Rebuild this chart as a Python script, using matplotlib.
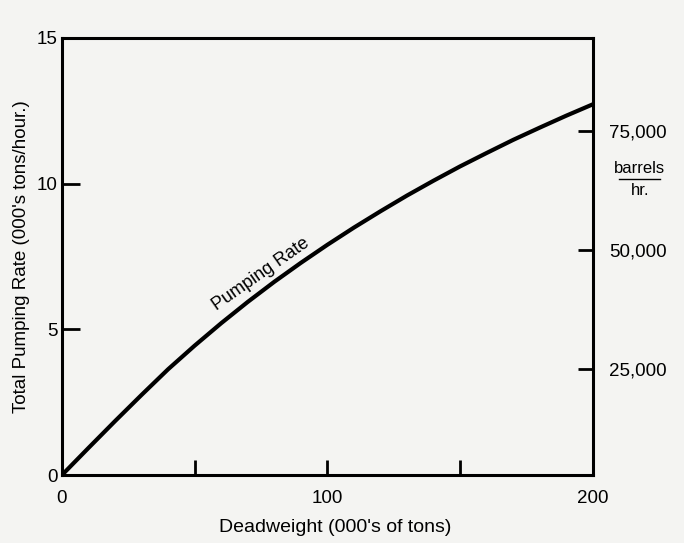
import matplotlib
matplotlib.use("Agg")
import matplotlib.pyplot as plt

# values
deadweight = [0, 10, 20, 30, 40, 50, 60, 70, 80, 90, 100,
              110, 120, 130, 140, 150, 160, 170, 180, 190, 200]
pumping_rate = [0, 0.93, 1.85, 2.75, 3.63, 4.44, 5.21, 5.94, 6.63, 7.28, 7.90,
                8.49, 9.05, 9.59, 10.10, 10.59, 11.05, 11.50, 11.92, 12.33, 12.72]

left_ticks = [0, 5, 10, 15]
bottom_ticks = [0, 50, 100, 150, 200]
bottom_labels = ['0', '', '100', '', '200']
barrel_ticks = [25000, 50000, 75000]
barrel_labels = ['25,000', '50,000', '75,000']

plt.rcParams['font.family'] = ['Liberation Sans', 'DejaVu Sans']
paper = '#f4f4f2'

fig = plt.figure(figsize=(6.84, 5.43), dpi=100, facecolor=paper)
ax = fig.add_axes([0.0906, 0.1252, 0.776, 0.805])
ax.set_facecolor(paper)

ax.plot(deadweight, pumping_rate, color='black', lw=3.0, solid_capstyle='round')
ax.set_xlim(0, 200)
ax.set_ylim(0, 15)

for s in ax.spines.values():
    s.set_linewidth(2.2)

ax.set_xticks(bottom_ticks)
ax.set_xticklabels(bottom_labels, fontsize=13.5)
ax.set_yticks(left_ticks)
ax.set_yticklabels([str(t) for t in left_ticks], fontsize=13.5)
ax.tick_params(axis='x', direction='in', length=11, width=2, pad=11)
ax.tick_params(axis='y', direction='in', length=13, width=2, pad=3)

ax.set_xlabel("Deadweight (000's of tons)", fontsize=14, labelpad=10)
ax.xaxis.set_label_coords(0.515, -0.1)
ax.set_ylabel("Total Pumping Rate (000's tons/hour.)", fontsize=13.5, labelpad=5)

ax.text(75, 6.9, 'Pumping Rate', rotation=35, fontsize=13,
        ha='center', va='center', rotation_mode='anchor')

# right hand scale in barrels per hour
ax2 = ax.twinx()
ax2.set_ylim(2850, 94600)
ax2.set_yticks(barrel_ticks)
ax2.set_yticklabels(barrel_labels, fontsize=13.5)
ax2.tick_params(axis='y', direction='in', length=11, width=2, pad=12)
for s in ax2.spines.values():
    s.set_visible(False)

ax2.text(1.0885, 0.683, 'barrels', transform=ax.transAxes, fontsize=12,
         ha='center', va='bottom')
ax2.plot([1.05, 1.127], [0.677, 0.677], transform=ax.transAxes,
         color='black', lw=1.0, clip_on=False)
ax2.text(1.0885, 0.668, 'hr.', transform=ax.transAxes, fontsize=12,
         ha='center', va='top')

fig.savefig('out.png', dpi=100, facecolor=paper)
